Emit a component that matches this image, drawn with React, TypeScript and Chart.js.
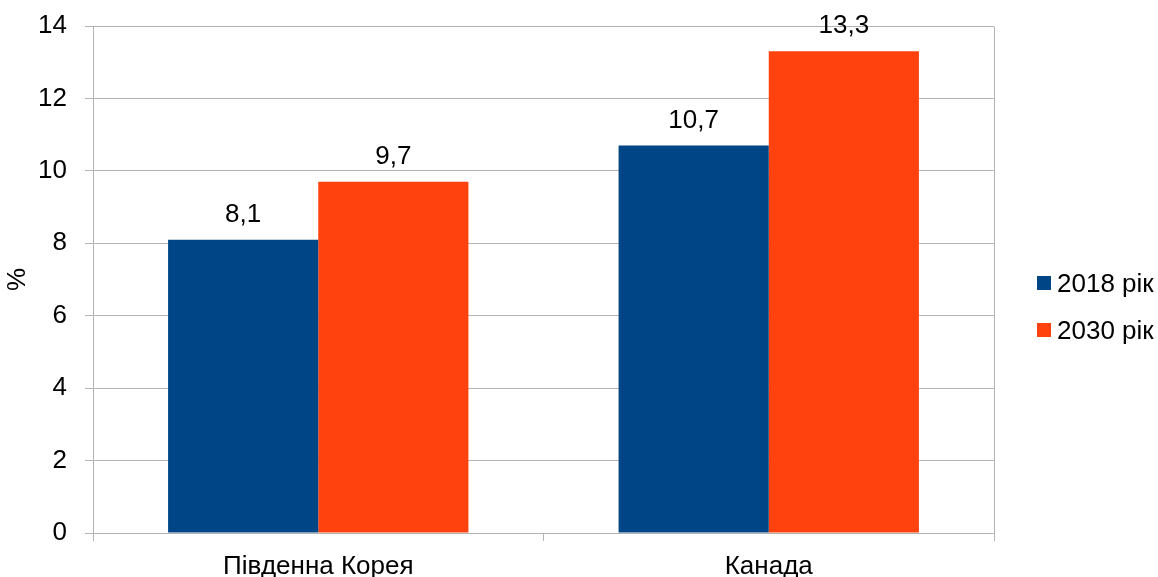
import React, { useEffect, useRef } from "react";
import { Chart, registerables } from "chart.js";

Chart.register(...registerables);

const categories = ["Південна Корея", "Канада"];
const seriesNames = ["2018 рік", "2030 рік"];
const values2018 = [8.1, 10.7];
const values2030 = [9.7, 13.3];
const seriesColors = ["#004586", "#ff420e"];
const yTicks = [0, 2, 4, 6, 8, 10, 12, 14];

const FONT = "'Liberation Sans', Arial, sans-serif";
const FONT_SIZE = 26;
const GRID = "#b3b3b3";

const fmt = (v: number) => v.toFixed(1).replace(".", ",");

// Value labels above each bar, with a comma decimal separator
const valueLabels = {
  id: "valueLabels",
  afterDatasetsDraw(chart: any) {
    const ctx = chart.ctx;
    ctx.save();
    ctx.font = `${FONT_SIZE}px ${FONT}`;
    ctx.fillStyle = "#000";
    ctx.textAlign = "center";
    ctx.textBaseline = "alphabetic";
    chart.data.datasets.forEach((ds: any, i: number) => {
      const meta = chart.getDatasetMeta(i);
      meta.data.forEach((bar: any, j: number) => {
        ctx.fillText(fmt(ds.data[j]), bar.x, bar.y - 18);
      });
    });
    ctx.restore();
  },
};

// Right edge of the plot frame
const plotFrame = {
  id: "plotFrame",
  afterDraw(chart: any) {
    const { ctx, chartArea } = chart;
    ctx.save();
    ctx.strokeStyle = GRID;
    ctx.lineWidth = 1;
    ctx.beginPath();
    const r = Math.round(chartArea.right) + 0.5;
    ctx.moveTo(r, Math.round(chartArea.top) + 0.5);
    ctx.lineTo(r, Math.round(chartArea.bottom) + 0.5);
    ctx.stroke();
    ctx.restore();
  },
};

// Legend on the right, vertically stacked
const sideLegend = {
  id: "sideLegend",
  afterDraw(chart: any) {
    const ctx = chart.ctx;
    ctx.save();
    ctx.font = `${FONT_SIZE}px ${FONT}`;
    ctx.textAlign = "left";
    ctx.textBaseline = "alphabetic";
    const baselines = [292, 339];
    seriesNames.forEach((name, i) => {
      const b = baselines[i];
      ctx.fillStyle = seriesColors[i];
      ctx.fillRect(1037, b - 16, 14, 14);
      ctx.fillStyle = "#000";
      ctx.fillText(name, 1057, b);
    });
    ctx.restore();
  },
};

export default function App() {
  const ref = useRef<HTMLCanvasElement>(null);

  useEffect(() => {
    document.body.style.margin = "0";
    const chart = new Chart(ref.current!, {
      type: "bar",
      data: {
        labels: categories,
        datasets: [
          {
            label: seriesNames[0],
            data: values2018,
            backgroundColor: seriesColors[0],
            categoryPercentage: 300 / 450,
            barPercentage: 1,
          },
          {
            label: seriesNames[1],
            data: values2030,
            backgroundColor: seriesColors[1],
            categoryPercentage: 300 / 450,
            barPercentage: 1,
          },
        ],
      },
      options: {
        responsive: false,
        animation: false,
        layout: { padding: { top: 26, right: 164, bottom: 0, left: 0 } },
        plugins: {
          legend: { display: false },
          tooltip: { enabled: false },
        },
        scales: {
          x: {
            grid: {
              offset: true,
              drawOnChartArea: false,
              drawTicks: true,
              tickLength: 8,
              color: GRID,
            },
            border: { color: GRID },
            ticks: {
              color: "#000",
              font: { family: FONT, size: FONT_SIZE },
              padding: 10,
              maxRotation: 0,
            },
            afterFit(scale: any) {
              scale.height = 44;
              scale.paddingLeft = 0;
              scale.paddingRight = 0;
            },
          },
          y: {
            min: 0,
            max: 14,
            afterBuildTicks(scale: any) {
              scale.ticks = yTicks.map((v) => ({ value: v }));
            },
            grid: { color: GRID, tickLength: 8 },
            border: { color: GRID },
            ticks: {
              color: "#000",
              font: { family: FONT, size: FONT_SIZE },
              padding: 18,
            },
            title: {
              display: true,
              text: "%",
              color: "#000",
              font: { family: FONT, size: FONT_SIZE },
              padding: { top: 2, bottom: 0 },
            },
            afterFit(scale: any) {
              scale.width = 93;
              scale.paddingTop = 0;
              scale.paddingBottom = 0;
            },
          },
        },
      },
      plugins: [valueLabels, plotFrame, sideLegend],
    });
    return () => chart.destroy();
  }, []);

  return <canvas ref={ref} width={1158} height={577} style={{ display: "block" }} />;
}
